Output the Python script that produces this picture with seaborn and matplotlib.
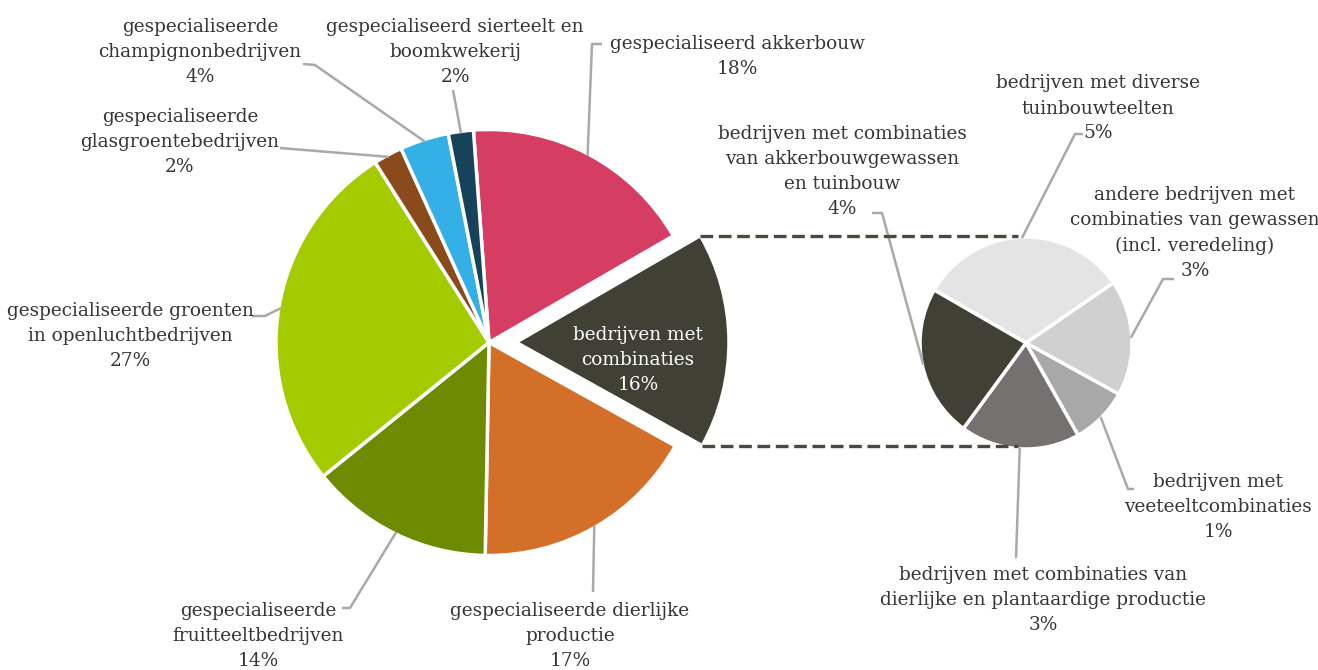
import matplotlib
matplotlib.use("Agg")
import matplotlib.pyplot as plt
import seaborn as sns
import numpy as np

# ---------------- data ----------------
main_labels = [
    "gespecialiseerd akkerbouw",
    "bedrijven met\ncombinaties",
    "gespecialiseerde dierlijke\nproductie",
    "gespecialiseerde\nfruitteeltbedrijven",
    "gespecialiseerde groenten\nin openluchtbedrijven",
    "gespecialiseerde\nglasgroentebedrijven",
    "gespecialiseerde\nchampignonbedrijven",
    "gespecialiseerd sierteelt en\nboomkwekerij",
]
main_values = [17.8, 16.4, 17.2, 13.9, 26.8, 2.2, 3.7, 1.9]
main_colors = ["#d53e62", "#414034", "#d36f28", "#6d8b00",
               "#a4cb00", "#8b4a1c", "#35b0e6", "#17435a"]

sub_labels = [
    "bedrijven met diverse\ntuinbouwteelten",
    "andere bedrijven met\ncombinaties van gewassen\n(incl. veredeling)",
    "bedrijven met\nveeteeltcombinaties",
    "bedrijven met combinaties van\ndierlijke en plantaardige productie",
    "bedrijven met combinaties\nvan akkerbouwgewassen\nen tuinbouw",
]
sub_values = [5.1, 2.8, 1.4, 2.9, 3.7]
sub_colors = ["#e4e4e4", "#d1d0d0", "#a8a8a8", "#747170", "#414034"]

# ---------------- style ----------------
sns.set_theme(style="white")
plt.rcParams['font.family'] = ['DejaVu Serif']
TXT = "#363636"
LEAD = "#a9a9a9"
FS = 13.3
LS = 1.5

W, H = 1318, 670
fig = plt.figure(figsize=(W / 100, H / 100), dpi=100)
ax = fig.add_axes([0, 0, 1, 1])

def P(px, py):
    return (px, H - py)

main_c = P(489, 342.5)
main_r = 213
sub_c = P(1026, 343)
sub_r = 106

explode = [0, 27, 0, 0, 0, 0, 0, 0]
wedges, _ = ax.pie(main_values, colors=main_colors, startangle=94.2, counterclock=False,
                   center=main_c, radius=main_r, explode=explode, normalize=True,
                   wedgeprops=dict(edgecolor="white", linewidth=2.5))
swedges, _ = ax.pie(sub_values, colors=sub_colors, startangle=150, counterclock=False,
                    center=sub_c, radius=sub_r, normalize=True,
                    wedgeprops=dict(edgecolor="white", linewidth=2.5))

ax.set_xlim(0, W)
ax.set_ylim(0, H)
ax.set_aspect("equal")
ax.axis("off")

def mid_point(w, frac=1.0):
    th = np.deg2rad(0.5 * (w.theta1 + w.theta2))
    cx, cy = w.center
    return (cx + frac * w.r * np.cos(th), cy + frac * w.r * np.sin(th))

def pct(v):
    return f"{round(v):d}%"

# ---------------- main pie labels ----------------
main_layout = [
    (P(737, 56.5), [P(592, 44), P(602, 44)]),
    None,
    (P(570, 636), [P(593, 592)]),
    (P(258, 636), [P(350, 608), P(342, 608)]),
    (P(130, 336), [P(265, 316), P(252, 316)]),
    (P(180, 142), [P(280, 148)]),
    (P(200, 52), [P(315, 65), P(303, 64)]),
    (P(455, 52), [P(453, 90)]),
]
for w, lab, val, lay in zip(wedges, main_labels, main_values, main_layout):
    if lay is None:
        continue
    txy, path = lay
    pts = [mid_point(w, 0.99)] + path
    xs, ys = zip(*pts)
    ax.plot(xs, ys, color=LEAD, lw=1.8, solid_capstyle="butt")
    ax.text(txy[0], txy[1], f"{lab}\n{pct(val)}", ha="center", va="center",
            multialignment="center", fontsize=FS, color=TXT, linespacing=LS)

# label inside exploded slice
ax.text(*P(638, 360), f"{main_labels[1]}\n{pct(main_values[1])}", ha="center",
        va="center", multialignment="center", fontsize=FS, color="white", linespacing=LS)

# ---------------- sub pie labels ----------------
sub_layout = [
    (P(1098, 108.5), [P(1075, 134), P(1083, 134)]),
    (P(1195, 233), [P(1163, 279), P(1174, 279)]),
    (P(1218, 507), [P(1128, 489), P(1134, 489)]),
    (P(1043, 600), [P(1016, 558)]),
    (P(842, 171.5), [P(882, 213), P(872, 213)]),
]
for w, lab, val, lay in zip(swedges, sub_labels, sub_values, sub_layout):
    txy, path = lay
    pts = [mid_point(w, 0.99)] + path
    xs, ys = zip(*pts)
    ax.plot(xs, ys, color=LEAD, lw=1.8, solid_capstyle="butt")
    ax.text(txy[0], txy[1], f"{lab}\n{pct(val)}", ha="center", va="center",
            multialignment="center", fontsize=FS, color=TXT, linespacing=LS)

# ---------------- connector dashed lines ----------------
cw = wedges[1]
cx, cy = cw.center
for th in (cw.theta2, cw.theta1):
    t = np.deg2rad(th)
    x0, y0 = cx + cw.r * np.cos(t), cy + cw.r * np.sin(t)
    x1 = sub_c[0] - 0.08 * sub_r
    ax.plot([x0, x1], [y0, y0], color="#4a4a3c", lw=2.4, linestyle=(0, (3.8, 1.7)))

fig.savefig("out.png", dpi=100)
